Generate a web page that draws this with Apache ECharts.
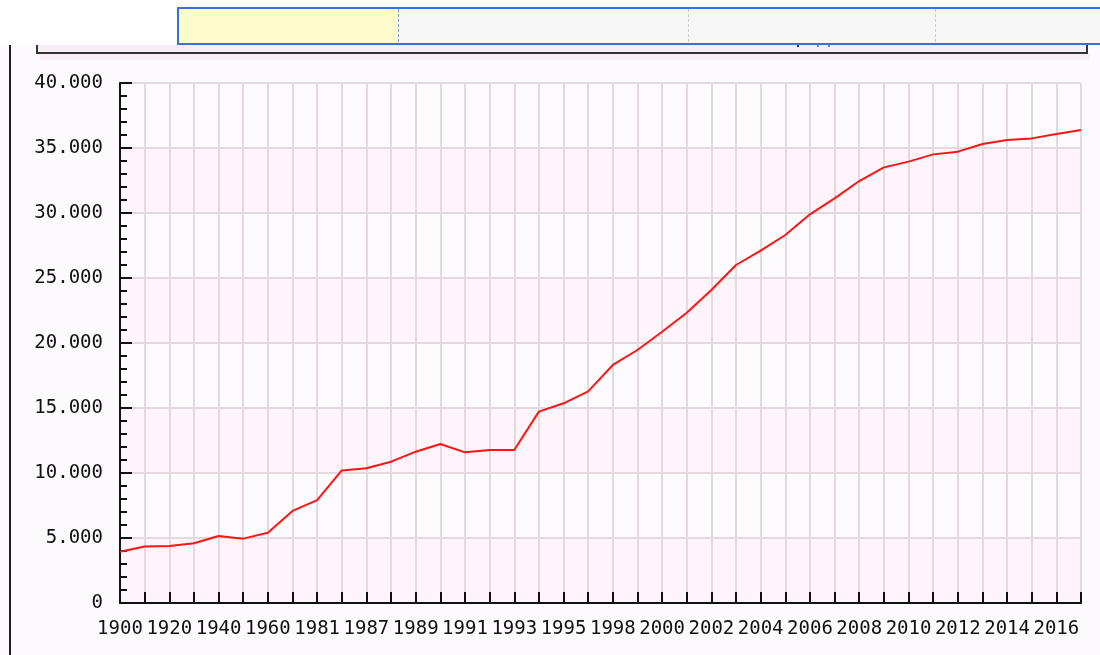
<!DOCTYPE html>
<html>
<head>
<meta charset="utf-8">
<script src="https://cdn.jsdelivr.net/npm/echarts@6/dist/echarts.min.js"></script>
<style>
html,body{margin:0;padding:0;background:#fcfafd;}
#chart{width:1100px;height:655px;}
</style>
</head>
<body>
<div id="chart"></div>
<script>
const categories = ['1900','1910','1920','1930','1940','1950','1960','1970','1981','1985','1987','1988','1989','1990','1991','1992','1993','1994','1995','1997','1998','1999','2000','2001','2002','2003','2004','2005','2006','2007','2008','2009','2010','2011','2012','2013','2014','2015','2016','2017'];
const values = [3950,4350,4380,4600,5150,4950,5410,7080,7920,10200,10360,10870,11640,12230,11590,11770,11770,14720,15360,16280,18310,19460,20870,22330,24080,26000,27100,28310,29900,31130,32460,33510,33950,34510,34720,35310,35620,35740,36080,36380];
const yTicks = [0,5000,10000,15000,20000,25000,30000,35000,40000];

const chart = echarts.init(document.getElementById('chart'), null, {renderer:'canvas'});
const fmt = v => v === 0 ? '0' : String(v).replace(/\B(?=(\d{3})+(?!\d))/g, '.');
chart.setOption({
  backgroundColor: '#fcfafd',
  animation: false,
  grid: {left: 120, right: 19, top: 83, bottom: 52},
  xAxis: {
    type: 'category',
    data: categories,
    boundaryGap: false,
    axisLine: {lineStyle: {color: '#111', width: 2}},
    axisTick: {show: true, inside: true, length: 11, interval: 0, lineStyle: {color: '#111', width: 2}},
    axisLabel: {interval: (i) => i % 2 === 0, fontFamily: 'DejaVu Sans Mono', fontSize: 19, color: '#111', margin: 17, hideOverlap: false},
    splitLine: {show: true, interval: 0, lineStyle: {color: '#e3d9de', width: 2}}
  },
  yAxis: {
    type: 'value',
    min: yTicks[0],
    max: yTicks[yTicks.length - 1],
    interval: yTicks[1] - yTicks[0],
    axisLine: {show: true, lineStyle: {color: '#111', width: 2}},
    axisTick: {show: true, inside: true, length: 12, lineStyle: {color: '#111', width: 2}},
    minorTick: {show: true, splitNumber: 5, length: 7, lineStyle: {color: '#111', width: 2}},
    axisLabel: {fontFamily: 'DejaVu Sans Mono', fontSize: 19, color: '#111', margin: 17, formatter: fmt},
    splitLine: {show: true, lineStyle: {color: '#e3d9de', width: 2}},
    splitArea: {show: true, areaStyle: {color: ['#fff4f9', '#fdfbfe']}}
  },
  series: [{
    type: 'line',
    data: values,
    showSymbol: false,
    symbol: 'none',
    lineStyle: {color: '#ff1414', width: 2},
    z: 5
  }],
  graphic: [
    {type: 'rect', z: 100, shape: {x: 40, y: 54, width: 1050, height: 6}, style: {fill: '#f8eef5'}},
    {type: 'rect', z: 101, shape: {x: 37, y: 0, width: 1050, height: 53}, style: {fill: '#f7edf5', stroke: '#333', lineWidth: 2}},
    {type: 'rect', z: 102, shape: {x: 0, y: 0, width: 1100, height: 45}, style: {fill: '#ffffff'}},
    {type: 'line', z: 102, shape: {x1: 10, y1: 45, x2: 10, y2: 655}, style: {stroke: '#222', lineWidth: 2}},
    {type: 'rect', z: 103, shape: {x: 178, y: 8, width: 940, height: 36}, style: {fill: '#f7f7f7', stroke: '#3a70d6', lineWidth: 2}},
    {type: 'rect', z: 104, shape: {x: 179, y: 9, width: 219, height: 34}, style: {fill: '#fffccc'}},
    {type: 'line', z: 104, shape: {x1: 398.5, y1: 9, x2: 398.5, y2: 43}, style: {stroke: '#7a9ee0', lineWidth: 1, lineDash: [3, 2]}},
    {type: 'line', z: 104, shape: {x1: 688.5, y1: 9, x2: 688.5, y2: 43}, style: {stroke: '#cccccc', lineWidth: 1, lineDash: [3, 2]}},
    {type: 'line', z: 104, shape: {x1: 935.5, y1: 9, x2: 935.5, y2: 43}, style: {stroke: '#cccccc', lineWidth: 1, lineDash: [3, 2]}},
    {type: 'rect', z: 104, shape: {x: 797, y: 45, width: 2, height: 2}, style: {fill: '#334'}},
    {type: 'rect', z: 104, shape: {x: 817, y: 45, width: 2, height: 2}, style: {fill: '#889'}},
    {type: 'rect', z: 104, shape: {x: 828, y: 45, width: 2, height: 2}, style: {fill: '#889'}}
  ]
});
</script>
</body>
</html>
